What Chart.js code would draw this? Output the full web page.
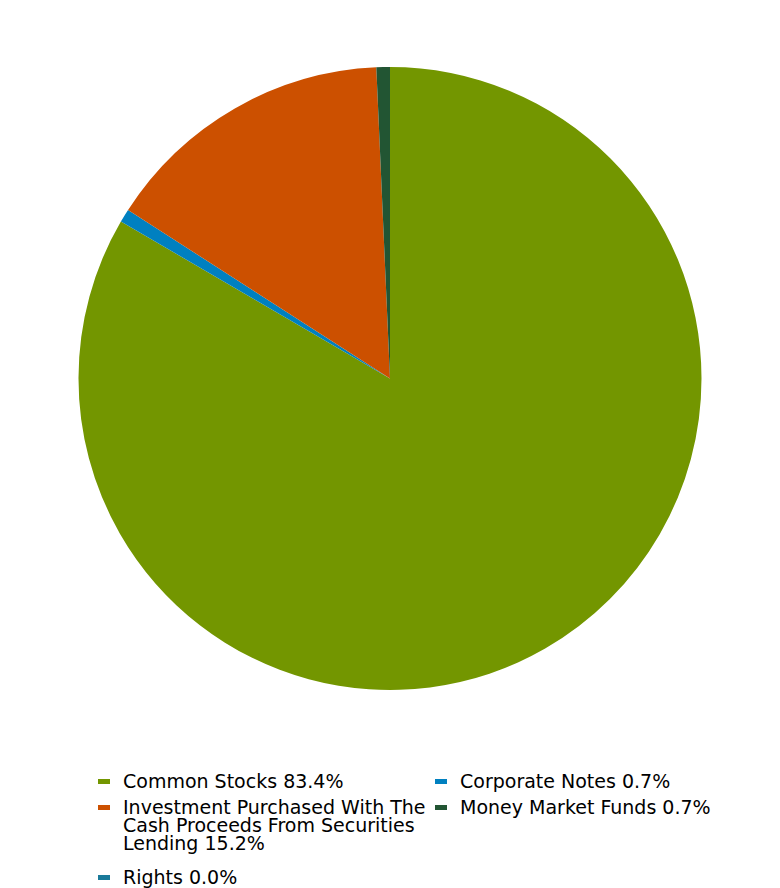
<!DOCTYPE html>
<html>
<head>
<meta charset="utf-8">
<script src="https://cdn.jsdelivr.net/npm/chart.js@4"></script>
<style>
  body { margin: 0; background: #fff; font-family: "DejaVu Sans", Verdana, sans-serif; }
  #wrap { position: relative; width: 780px; height: 740px; }
  #legend { position: absolute; left: 98px; top: 772px; width: 640px; display: grid; grid-template-columns: 337px 300px; row-gap: 8px; font-size: 19px; line-height: 18px; color: #000; }
  .item { display: flex; align-items: flex-start; }
  .item:nth-child(5) { margin-top: 8px; }
  .mark { flex: 0 0 12px; height: 5px; margin-top: 7px; margin-right: 13px; }
  .txt { max-width: 308px; }
</style>
</head>
<body>
<div id="wrap"><canvas id="pie"></canvas></div>
<div id="legend"></div>
<script>
const labels = ['Common Stocks', 'Corporate Notes', 'Investment Purchased With The Cash Proceeds From Securities Lending', 'Money Market Funds', 'Rights'];
const values = [83.4, 0.7, 15.2, 0.7, 0.0];
const colors = ['#739600', '#0080c0', '#cc5000', '#225533', '#1a7a9a'];

const chart = new Chart(document.getElementById('pie'), {
  type: 'pie',
  data: {
    labels: labels,
    datasets: [{ data: values, backgroundColor: colors, borderWidth: 0 }]
  },
  options: {
    responsive: true,
    maintainAspectRatio: false,
    animation: false,
    layout: { padding: { top: 67, bottom: 50 } },
    plugins: { legend: { display: false }, tooltip: { enabled: false } }
  }
});

// html legend, two columns like the reference
const legend = document.getElementById('legend');
labels.forEach((name, i) => {
  const div = document.createElement('div');
  div.className = 'item';
  div.innerHTML = `<span class="mark" style="background:${colors[i]}"></span><span class="txt">${name} ${values[i].toFixed(1)}%</span>`;
  legend.appendChild(div);
});
</script>
</body>
</html>
